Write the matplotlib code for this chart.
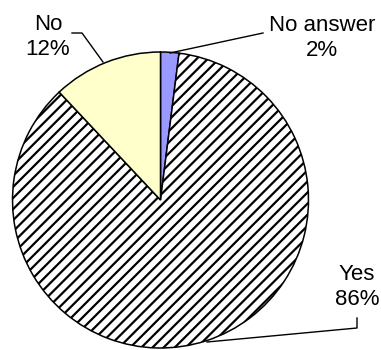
import matplotlib
matplotlib.use("Agg")
import matplotlib.pyplot as plt

# Survey answers (share of respondents, %)
categories = ["No answer", "Yes", "No"]
shares = [2, 86, 12]
colors = ["#9999FF", "#FFFFFF", "#FFFFCC"]
hatches = [None, "///", None]

plt.rcParams["font.family"] = ["Liberation Sans", "DejaVu Sans"]
plt.rcParams["hatch.linewidth"] = 1.6
plt.rcParams["hatch.color"] = "black"

W, H = 381, 350
fig = plt.figure(figsize=(W / 100, H / 100), dpi=100)
ax = fig.add_axes([0, 0, 1, 1])

wedges, _ = ax.pie(
    shares,
    colors=colors,
    startangle=90,
    counterclock=False,
    center=(160.5, 350 - 200),
    radius=148,
    wedgeprops=dict(edgecolor="black", linewidth=1.1),
)
for w, h in zip(wedges, hatches):
    if h:
        w.set_hatch(h)

ax.set_xlim(0, W)
ax.set_ylim(0, H)
ax.set_aspect("equal")
ax.axis("off")

def py(y):
    return H - y

fs = 16
labels = [f"{c}\n{s}%" for c, s in zip(categories, shares)]
label_pos = {"No answer": (322, 38), "Yes": (357, 287), "No": (48, 37)}
for cat, txt in zip(categories, labels):
    x, y = label_pos[cat]
    ax.text(x, py(y), txt, ha="center", va="center", fontsize=fs,
            linespacing=1.3)

# Leader lines from labels to slices
leaders = {
    "No answer": [(170, 53), (263, 33)],
    "No": [(72, 33), (82, 33), (103, 62)],
    "Yes": [(207, 342), (357, 328), (357, 318)],
}
for pts in leaders.values():
    xs = [p[0] for p in pts]
    ys = [py(p[1]) for p in pts]
    ax.plot(xs, ys, color="black", linewidth=1.0)

fig.savefig("out.png", dpi=100, facecolor="white")
